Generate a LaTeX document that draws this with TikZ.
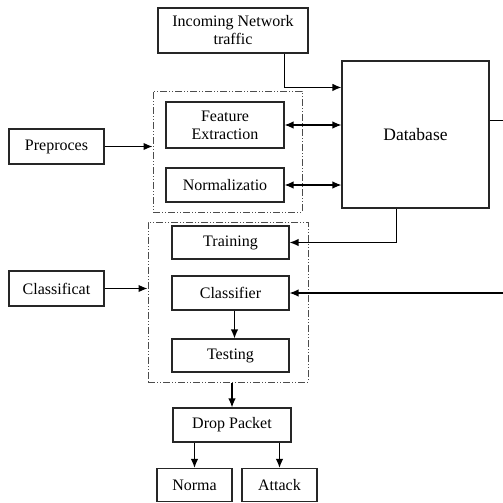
\documentclass[tikz,border=0pt]{standalone}
\usepackage{fontspec}
\setmainfont{Liberation Serif}
\usetikzlibrary{arrows.meta,calc}
\begin{document}
\begin{tikzpicture}[x=1pt,y=-1pt,
  box/.style={draw=black!85,line width=1.1pt,fill=white,inner sep=1pt,align=center,
    font=\fontsize{16}{18}\selectfont},
  grp/.style={draw=black!70,line width=1pt,
    dash pattern=on 7pt off 2pt on 1pt off 2pt on 1pt off 2pt},
  arr/.style={line width=1.3pt,-{Latex[length=9pt,width=7.5pt]}},
  darr/.style={line width=1.3pt,{Latex[length=9pt,width=7.5pt]}-{Latex[length=9pt,width=7.5pt]}}]
\useasboundingbox (0,0) rectangle (503,503);
\fill[white] (0,0) rectangle (503,503);
% groups
\node[grp,minimum width=149pt,minimum height=121pt] (ppbox) at (227.5,151.5) {};
\node[grp,minimum width=160pt,minimum height=160pt] (clbox) at (228,302) {};
% boxes
\node[box,minimum width=150pt,minimum height=45pt] (inc) at (233,30.5) {Incoming Network\\traffic};
\node[box,minimum width=147pt,minimum height=147pt,font=\fontsize{17.5}{19}\selectfont] (db) at (415.5,134.5) {Database};
\node[box,minimum width=118pt,minimum height=46pt] (fe) at (225,125) {Feature\\Extraction};
\node[box,minimum width=118pt,minimum height=34pt] (nz) at (225,185) {Normalizatio};
\node[box,minimum width=95pt,minimum height=35pt] (pre) at (56.5,146.5) {Preproces};
\node[box,minimum width=95pt,minimum height=35pt] (cls) at (56.5,288.5) {Classificat};
\node[box,minimum width=117pt,minimum height=33pt] (tr) at (230.5,242.5) {Training};
\node[box,minimum width=117pt,minimum height=34pt] (cl) at (230.5,293) {Classifier};
\node[box,minimum width=117pt,minimum height=33pt] (te) at (230.5,355.5) {Testing};
\node[box,minimum width=118pt,minimum height=34pt] (dp) at (232,425) {Drop Packet};
\node[box,minimum width=75pt,minimum height=33pt] (no) at (194.5,485) {Norma};
\node[box,minimum width=75pt,minimum height=33pt] (at) at (279.5,485) {Attack};
% connectors
\draw[arr] (inc.south -| fe.east) |- ($(db.north west)+(0,27)$);
\draw[darr] (fe.east) -- (fe.east -| db.west);
\draw[darr] (nz.east) -- (nz.east -| db.west);
\draw[arr] (pre.east) -- (pre.east -| ppbox.west);
\draw[arr] (cls.east) -- (cls.east -| clbox.west);
\draw[arr] ($(db.south west)+(55,0)$) |- (tr.east);
\draw[arr] ($(db.north east)+(0,60)$) -- ++(18,0) |- (cl.east);
\draw[arr] ($(cl.south)+(4,0)$) -- ($(te.north)+(4,0)$);
\draw[arr] (clbox.south -| dp.north) -- (dp.north);
\draw[arr] (dp.south -| no.north) -- (no.north);
\draw[arr] (dp.south -| at.north) -- (at.north);
\end{tikzpicture}
\end{document}
